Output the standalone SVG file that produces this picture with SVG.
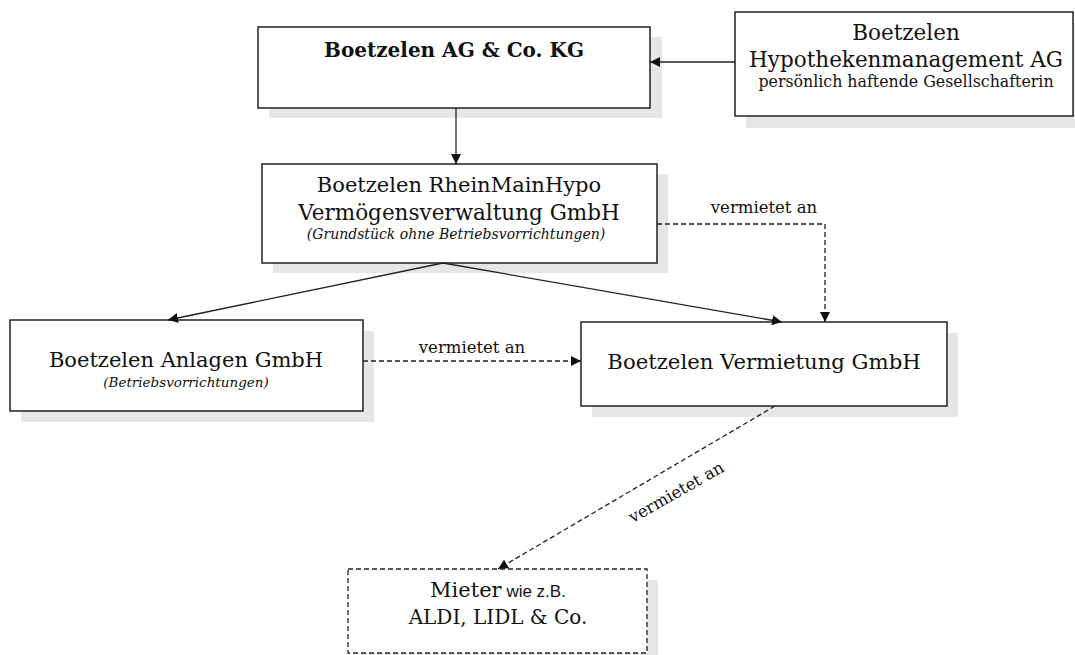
<svg xmlns="http://www.w3.org/2000/svg" width="1075" height="655" viewBox="0 0 1075 655">
<style>
.box{fill:#fff;stroke:#222;stroke-width:1.5}
.dbox{fill:#fff;stroke:#222;stroke-width:1.3;stroke-dasharray:5,3}
.sh{fill:#e6e6e6}
.t{font-family:"DejaVu Serif",serif;fill:#111;text-anchor:middle}
.b{font-weight:bold}
.i{font-style:italic}
.s{font-family:"Liberation Sans",Arial,sans-serif}
.ln{fill:none;stroke:#222;stroke-width:1.3}
.ds{fill:none;stroke:#222;stroke-width:1.3;stroke-dasharray:5,3}
.lbl{font-family:"DejaVu Serif",serif;font-size:16.5px;fill:#111;text-anchor:middle}
</style>
<defs>
<marker id="ah" viewBox="0 0 10 10" refX="10" refY="5" markerWidth="10" markerHeight="10" markerUnits="userSpaceOnUse" orient="auto">
<path d="M0,0 L10,5 L0,10 Z" fill="#111"/>
</marker>
</defs>
<rect width="1075" height="655" fill="#fff"/>
<g id="n1">
<rect class="sh" x="269" y="37" width="393" height="81"/>
<rect class="box" x="258" y="27" width="392" height="81"/>
<text class="t b" x="454" y="57" font-size="20">Boetzelen AG &amp; Co. KG</text>
</g>
<g id="n2">
<rect class="sh" x="746" y="23" width="340" height="105"/>
<rect class="box" x="735" y="12" width="338" height="104"/>
<text class="t" x="906" y="40" font-size="21.5">Boetzelen</text>
<text class="t" x="906" y="67" font-size="21.5">Hypothekenmanagement AG</text>
<text class="t" x="906" y="87" font-size="15.8">persönlich haftende Gesellschafterin</text>
</g>
<g id="n3">
<rect class="sh" x="273" y="174" width="395" height="99"/>
<rect class="box" x="262" y="164" width="395" height="99"/>
<text class="t" x="459" y="192" font-size="21">Boetzelen RheinMainHypo</text>
<text class="t" x="459" y="220" font-size="21.5">Vermögensverwaltung GmbH</text>
<text class="t i" x="456" y="239" font-size="14">(Grundstück ohne Betriebsvorrichtungen)</text>
</g>
<g id="n4">
<rect class="sh" x="21" y="331" width="353" height="91"/>
<rect class="box" x="10" y="320" width="353" height="91"/>
<text class="t" x="186" y="367" font-size="21">Boetzelen Anlagen GmbH</text>
<text class="t i" x="186" y="387" font-size="13.5">(Betriebsvorrichtungen)</text>
</g>
<g id="n5">
<rect class="sh" x="592" y="333" width="366" height="84"/>
<rect class="box" x="581" y="322" width="366" height="84"/>
<text class="t" x="764" y="369" font-size="21.2">Boetzelen Vermietung GmbH</text>
</g>
<g id="n6">
<rect class="sh" x="359" y="580" width="299" height="84"/>
<rect class="dbox" x="348" y="569" width="299" height="84"/>
<text class="t" x="498" y="597" font-size="21">Mieter<tspan class="s" font-size="17"> wie z.B.</tspan></text>
<text class="t" x="498" y="624" font-size="20">ALDI, LIDL &amp; Co.</text>
</g>
<g id="connectors">
<path class="ln" d="M735,62 L650,62" marker-end="url(#ah)"/>
<path class="ln" d="M456,108 L456,164" marker-end="url(#ah)"/>
<path class="ln" d="M443,263 L168,320" marker-end="url(#ah)"/>
<path class="ln" d="M443,263 L782,322" marker-end="url(#ah)"/>
<path class="ds" d="M657,224 L825,224 L825,322" marker-end="url(#ah)"/>
<text class="lbl" x="764" y="213">vermietet an</text>
<path class="ds" d="M363,361 L581,361" marker-end="url(#ah)"/>
<text class="lbl" x="472" y="353">vermietet an</text>
<path class="ds" d="M775,406 L498,569" marker-end="url(#ah)"/>
<text class="lbl" transform="translate(679,497) rotate(-29.7)">vermietet an</text>
</g>
</svg>
